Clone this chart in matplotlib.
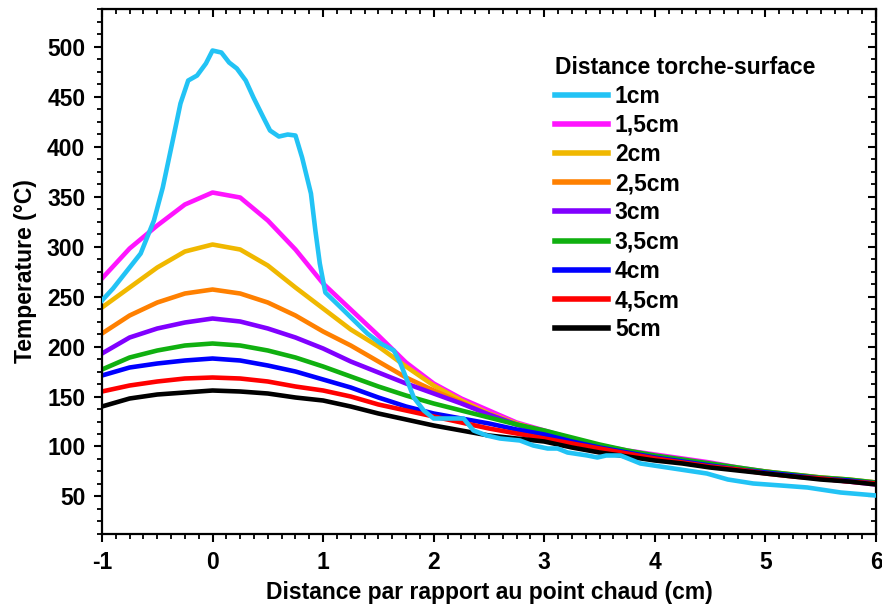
import matplotlib
matplotlib.use("Agg")
import matplotlib.pyplot as plt
from matplotlib.ticker import MultipleLocator

plt.rcParams["font.family"] = ["Liberation Sans", "DejaVu Sans"]
plt.rcParams["font.weight"] = "bold"
plt.rcParams["axes.unicode_minus"] = False

# distance to hot spot (cm), common grid for the smooth curves
x = [-1, -0.75, -0.5, -0.25, 0, 0.25, 0.5, 0.75, 1, 1.25, 1.5, 1.75, 2, 2.25, 2.5,
     2.75, 3, 3.25, 3.5, 3.75, 4, 4.25, 4.5, 4.75, 5, 5.25, 5.5, 5.75, 6]

# 1 cm curve is read on its own (irregular) grid
x_1cm = [-1, -0.9, -0.8, -0.65, -0.53, -0.45, -0.36, -0.29, -0.22, -0.14, -0.06, 0.0,
         0.08, 0.15, 0.22, 0.30, 0.37, 0.46, 0.52, 0.60, 0.68, 0.75, 0.81, 0.89, 0.93,
         0.97, 1.02, 1.16, 1.28, 1.40, 1.52, 1.64, 1.70, 1.76, 1.82, 1.91, 2.0, 2.12,
         2.27, 2.36, 2.48, 2.60, 2.78, 2.90, 3.03, 3.12, 3.21, 3.39, 3.48, 3.56, 3.69,
         3.87, 4.17, 4.47, 4.66, 4.89, 5.14, 5.38, 5.68, 6.0]
t_1cm = [246, 258, 272, 293, 326, 359, 406, 443, 466, 471, 483, 496,
         494, 484, 478, 466, 449, 429, 416, 410, 412, 411, 389, 353, 316,
         283, 254, 239, 226, 213, 203, 196, 183, 166, 149, 136, 128, 128,
         128, 116, 111, 108, 106, 101, 98, 98, 94, 91, 89, 91, 91,
         83, 78, 73, 67, 63, 61, 59, 54, 51]

t_15cm = [268, 298, 321, 342, 354, 349, 326, 297, 263, 237, 211, 184, 163, 148, 136,
          124, 116, 108, 101, 96, 92, 88, 84, 79, 75, 71, 68, 65, 62]
t_2cm = [239, 259, 279, 295, 302, 297, 281, 259, 238, 217, 200, 180, 161, 146, 133,
         123, 115, 108, 101, 95, 90, 86, 82, 78, 74, 71, 68, 66, 63]
t_25cm = [213, 231, 244, 253, 257, 253, 244, 231, 215, 201, 185, 169, 156, 144, 132,
          122, 114, 106, 100, 95, 90, 86, 82, 78, 75, 72, 69, 67, 64]
t_3cm = [193, 209, 218, 224, 228, 225, 218, 209, 198, 185, 174, 163, 153, 143, 132,
         122, 114, 106, 100, 95, 90, 86, 82, 78, 74, 71, 68, 66, 63]
t_35cm = [177, 189, 196, 201, 203, 201, 196, 189, 180, 170, 160, 151, 143, 136, 129,
          122, 116, 109, 102, 96, 91, 87, 83, 79, 75, 72, 69, 67, 64]
t_4cm = [171, 179, 183, 186, 188, 186, 181, 175, 167, 159, 149, 140, 133, 128, 123,
         117, 112, 105, 99, 94, 89, 85, 81, 77, 74, 71, 68, 66, 63]
t_45cm = [155, 161, 165, 168, 169, 168, 165, 160, 156, 150, 142, 136, 130, 124, 118,
          113, 108, 103, 98, 93, 88, 84, 80, 77, 73, 70, 68, 65, 63]
t_5cm = [140, 148, 152, 154, 156, 155, 153, 149, 146, 140, 133, 127, 121, 116, 111,
         108, 105, 99, 94, 90, 86, 83, 79, 76, 73, 70, 67, 65, 62]

labels = ["1cm", "1,5cm", "2cm", "2,5cm", "3cm", "3,5cm", "4cm", "4,5cm", "5cm"]
colors = ["#22c3f5", "#ff14ff", "#f0b800", "#ff8000", "#8000ff",
          "#10b010", "#0000ff", "#ff0000", "#000000"]

FS = 16.5

fig = plt.figure(figsize=(8.82, 6.10), dpi=100)
ax = fig.add_axes([0.1156, 0.1246, 0.8776, 0.8606])

series = [t_15cm, t_2cm, t_25cm, t_3cm, t_35cm, t_4cm, t_45cm, t_5cm]
handles = []
h, = ax.plot(x_1cm, t_1cm, color=colors[0], lw=3.3, label=labels[0], zorder=3)
handles.append(h)
for vals, lab, col in zip(series, labels[1:], colors[1:]):
    h, = ax.plot(x, vals, color=col, lw=3.3, label=lab, zorder=2)
    handles.append(h)

ax.set_xlim(-1, 6)
ax.set_ylim(12.5, 537.5)
ax.xaxis.set_major_locator(MultipleLocator(1))
ax.xaxis.set_minor_locator(MultipleLocator(0.125))
ax.yaxis.set_minor_locator(MultipleLocator(12.5))
ax.set_yticks(range(50, 501, 50))

for sp in ax.spines.values():
    sp.set_linewidth(1.6)
ax.tick_params(which="major", direction="out", length=6, width=1.5, labelsize=FS, pad=6)
ax.tick_params(which="minor", direction="out", length=3.5, width=1.3)

# mirrored inward ticks on top and right
top = ax.secondary_xaxis("top")
top.xaxis.set_major_locator(MultipleLocator(1))
top.xaxis.set_minor_locator(MultipleLocator(0.125))
top.tick_params(which="major", direction="in", length=6, width=1.5, labeltop=False)
top.tick_params(which="minor", direction="in", length=3.5, width=1.3)
right = ax.secondary_yaxis("right")
right.yaxis.set_major_locator(MultipleLocator(50))
right.yaxis.set_minor_locator(MultipleLocator(12.5))
right.tick_params(which="major", direction="in", length=6, width=1.5, labelright=False)
right.tick_params(which="minor", direction="in", length=3.5, width=1.3)

ax.set_xlabel("Distance par rapport au point chaud (cm)", fontsize=FS, fontweight="bold", labelpad=5)
ax.set_ylabel("Temperature (°C)", fontsize=FS, fontweight="bold", labelpad=7)

leg = ax.legend(handles=handles, title="Distance torche-surface", loc="upper left",
                bbox_to_anchor=(0.565, 0.942), frameon=False, fontsize=FS,
                title_fontproperties={"weight": "bold", "size": FS},
                handlelength=2.3, handletextpad=0.3, labelspacing=0.27,
                alignment="left", borderpad=0.2)
for line in leg.get_lines():
    line.set_linewidth(4)

fig.savefig("out.png", dpi=100)
